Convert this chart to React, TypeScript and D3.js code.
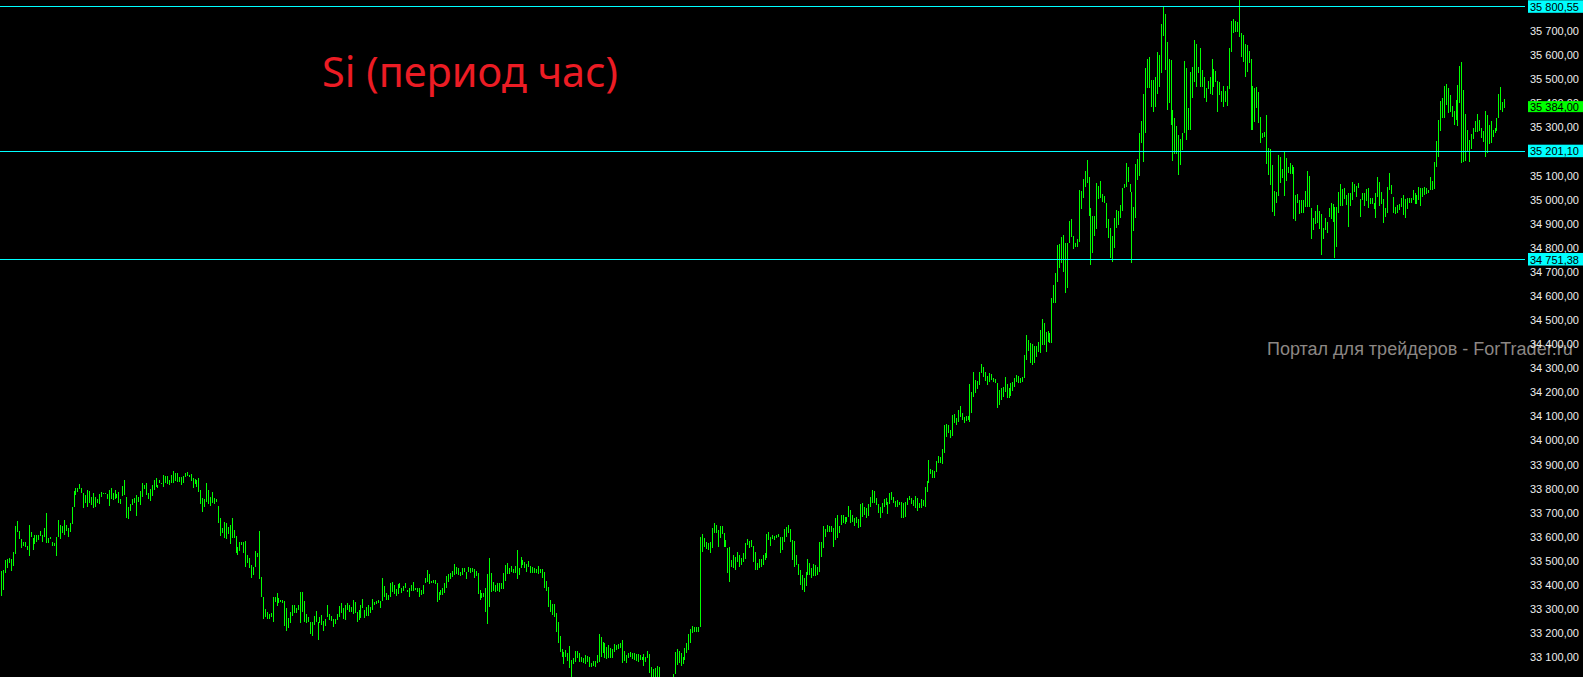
import { useEffect } from 'react';
import * as d3 from 'd3';

// hourly bars, high / low
const highs = [
  33457, 33461, 33503, 33507, 33511, 33507, 33536, 33643, 33664, 33623,
  33589, 33577, 33577, 33560, 33648, 33619, 33594, 33606, 33606, 33606,
  33623, 33606, 33635, 33698, 33594, 33598, 33577, 33573, 33598, 33668,
  33648, 33643, 33668, 33648, 33635, 33656, 33722, 33789, 33801, 33801,
  33817, 33801, 33780, 33772, 33793, 33789, 33764, 33780, 33764, 33755,
  33776, 33784, 33780, 33780, 33776, 33793, 33801, 33780, 33793, 33776,
  33784, 33755, 33809, 33834, 33764, 33722, 33735, 33755, 33759, 33772,
  33764, 33789, 33822, 33813, 33822, 33780, 33797, 33813, 33834, 33842,
  33813, 33834, 33822, 33855, 33851, 33851, 33834, 33855, 33871, 33863,
  33863, 33846, 33846, 33851, 33863, 33867, 33855, 33859, 33842, 33838,
  33834, 33842, 33793, 33759, 33755, 33822, 33793, 33764, 33784, 33759,
  33755, 33726, 33677, 33635, 33660, 33656, 33639, 33648, 33677, 33627,
  33602, 33556, 33577, 33577, 33577, 33581, 33523, 33511, 33482, 33474,
  33540, 33531, 33623, 33432, 33349, 33299, 33287, 33278, 33283, 33349,
  33349, 33366, 33345, 33337, 33337, 33332, 33303, 33262, 33287, 33316,
  33316, 33303, 33316, 33370, 33370, 33332, 33278, 33266, 33245, 33245,
  33270, 33291, 33245, 33266, 33274, 33249, 33258, 33316, 33278, 33270,
  33258, 33258, 33278, 33312, 33324, 33303, 33316, 33324, 33316, 33307,
  33337, 33328, 33287, 33295, 33316, 33341, 33295, 33307, 33316, 33307,
  33341, 33328, 33332, 33337, 33332, 33428,
  33395, 33366, 33357, 33407,
  33411, 33399, 33382, 33403, 33407, 33386, 33395, 33407, 33378, 33386,
  33399, 33411, 33386, 33386, 33386, 33378, 33399, 33428, 33461, 33445,
  33415, 33420, 33420, 33407, 33370, 33378, 33386, 33407, 33436, 33445,
  33449, 33457, 33486, 33474, 33469, 33453, 33469, 33469, 33453, 33474,
  33469, 33469, 33465, 33457, 33449, 33378, 33366, 33366, 33386, 33445,
  33511, 33449, 33411, 33399, 33407, 33407, 33407, 33449, 33482, 33490,
  33469, 33478, 33465, 33478, 33544, 33469, 33515, 33503, 33494, 33486,
  33498, 33478, 33474, 33469, 33465, 33478, 33465, 33465, 33453, 33415,
  33391, 33337, 33320, 33320, 33283, 33245, 33187, 33133, 33121, 33129,
  33117, 33146, 33088, 33096, 33125, 33125, 33117, 33100, 33096, 33108,
  33104, 33100, 33075, 33084, 33084, 33108, 33195, 33183, 33162, 33158,
  33141, 33150, 33137, 33133, 33154, 33150, 33154, 33158, 33171, 33125,
  33108, 33117, 33121, 33117, 33117, 33112, 33112, 33108, 33100, 33112,
  33100, 33125, 33112, 33059, 33050, 33054, 33063, 33059, 33010, 33000,
  33005, 33010, 33000, 33010, 33030, 33121, 33133, 33125, 33117, 33100,
  33137, 33158, 33195, 33216, 33229, 33224, 33224, 33224, 33598, 33610,
  33594, 33577, 33573, 33577, 33635, 33656, 33648, 33627, 33643, 33643,
  33614, 33585, 33552, 33556, 33503, 33523, 33515, 33536, 33523, 33511,
  33531, 33573,
  33589, 33581, 33585, 33560, 33536, 33490, 33507, 33507,
  33523, 33531, 33610, 33619, 33598, 33606, 33602, 33606, 33610, 33598,
  33598, 33631, 33639, 33648, 33631, 33585, 33581, 33523, 33486, 33461,
  33440, 33428, 33453, 33507, 33490, 33469, 33486, 33482, 33474, 33577,
  33577, 33643, 33631, 33648, 33643, 33643, 33635, 33677, 33689, 33643,
  33689, 33689, 33681, 33681, 33726, 33710, 33689, 33677, 33681, 33673,
  33735, 33739, 33722, 33718, 33735, 33764, 33793, 33789, 33759, 33735,
  33722, 33739, 33755, 33759, 33743, 33780, 33784, 33764, 33747, 33751,
  33743, 33743, 33739, 33743, 33759, 33768, 33759, 33751, 33768, 33759,
  33739, 33755, 33751, 33805, 33830, 33917, 33880, 33876, 33871, 33913,
  33934, 33930, 33963, 34062, 34066, 34062, 34042, 34104, 34108, 34091,
  34125, 34141, 34112, 34096, 34100, 34100, 34232, 34199, 34282, 34249,
  34245, 34282, 34316, 34303, 34282, 34266, 34278, 34274, 34257, 34253,
  34237, 34208, 34216, 34220, 34261, 34232, 34216, 34237, 34241, 34257,
  34270, 34266, 34257, 34261, 34353, 34436, 34415, 34403, 34399, 34390,
  34390, 34407, 34457, 34502, 34486, 34448, 34453, 34444, 34590, 34643,
  34693, 34809, 34813, 34842, 34851, 34818, 34818, 34909, 34917, 34847,
  34818, 34834, 35038, 35033, 35083, 35116, 35162, 35092, 34963, 34930,
  34930, 35067, 35054, 35075, 35021, 35013, 34984, 34917, 34880, 34847,
  34921, 34955, 34950, 34975, 35046, 35063, 35150, 35133, 35063, 35029,
  34967, 35146, 35166,
  35274, 35324, 35436, 35544, 35581, 35589, 35494,
  35494, 35506, 35610, 35598, 35726, 35797, 35768, 35652, 35581, 35577,
  35370, 35336, 35303, 35266, 35249, 35274, 35573, 35544, 35378, 35527,
  35548, 35660, 35643, 35548, 35627, 35536, 35506, 35461, 35490, 35506,
  35581, 35540, 35531, 35490, 35486, 35448, 35469, 35448, 35469, 35627,
  35739, 35747, 35739, 35735, 35830, 35689, 35681, 35643, 35639, 35614,
  35581, 35469, 35461, 35465, 35444, 35341, 35274, 35278, 35349, 35212,
  35208, 35141, 35033, 35029, 35183, 35175, 35125, 35195, 35170, 35133,
  35150, 35141, 35133, 35017, 35021, 34996, 34996, 34996, 35033, 35116,
  35096, 34963, 34921, 34950, 34975, 34950, 34938, 34880, 34921, 34905,
  34963, 34984, 34980, 34967, 34967, 35029, 35063, 35042, 35046, 35017,
  35025, 35025, 35071, 35063, 35054, 35067, 35000, 35025, 35025, 35042,
  35046, 35004, 35004, 34984, 35025, 35092, 35071, 35029, 35000, 34963,
  35050, 35108, 35058, 35009, 34967, 34975, 34980, 35004, 35017, 35000,
  35004, 35004, 35004, 35038, 35025, 35017, 35050, 35046, 35046, 35050,
  35046, 35038, 35092, 35075, 35154, 35241, 35328, 35407, 35419, 35469,
  35477, 35461, 35432, 35386, 35365, 35411, 35473, 35552, 35569, 35453,
  35353, 35287, 35245, 35270, 35295, 35324, 35353, 35328, 35295, 35282,
  35365, 35349, 35307, 35324, 35287, 35295, 35336, 35436, 35465, 35403,
  35415,
];

const lows = [
  33353, 33378, 33449, 33469, 33490, 33457, 33478, 33527, 33619, 33589,
  33552, 33560, 33556, 33544, 33519, 33598, 33544, 33569, 33577, 33585,
  33602, 33577, 33598, 33573, 33573, 33589, 33560, 33560, 33519, 33598,
  33589, 33614, 33606, 33623, 33598, 33619, 33652, 33722, 33772, 33784,
  33797, 33780, 33718, 33739, 33722, 33739, 33731, 33718, 33722, 33739,
  33735, 33764, 33776, 33776, 33755, 33726, 33755, 33751, 33755, 33759,
  33739, 33735, 33768, 33772, 33677, 33673, 33706, 33731, 33739, 33685,
  33743, 33731, 33764, 33797, 33772, 33755, 33747, 33768, 33793, 33805,
  33801, 33822, 33817, 33805, 33822, 33817, 33813, 33822, 33822, 33830,
  33826, 33826, 33813, 33822, 33846, 33851, 33846, 33830, 33801, 33817,
  33805, 33784, 33735, 33702, 33722, 33743, 33735, 33726, 33739, 33735,
  33743, 33656, 33602, 33614, 33594, 33589, 33610, 33569, 33594, 33594,
  33531, 33523, 33540, 33565, 33531, 33474, 33490, 33469, 33428, 33440,
  33474, 33515, 33424, 33349, 33258, 33266, 33258, 33258, 33266, 33245,
  33328, 33312, 33324, 33328, 33324, 33229, 33208, 33220, 33241, 33270,
  33283, 33283, 33295, 33241, 33287, 33245, 33241, 33245, 33195, 33187,
  33233, 33245, 33171, 33241, 33233, 33208, 33229, 33266, 33254, 33249,
  33224, 33237, 33254, 33266, 33283, 33258, 33254, 33295, 33287, 33287,
  33278, 33283, 33245, 33254, 33262, 33303, 33262, 33270, 33270, 33283,
  33295, 33316, 33320, 33324, 33303, 33332,
  33349, 33337, 33337, 33349,
  33370, 33361, 33353, 33361, 33386, 33366, 33374, 33386, 33370, 33349,
  33374, 33374, 33378, 33370, 33349, 33357, 33361, 33407, 33411, 33403,
  33407, 33407, 33403, 33328, 33337, 33357, 33357, 33366, 33386, 33411,
  33424, 33432, 33440, 33445, 33440, 33436, 33440, 33453, 33424, 33453,
  33449, 33453, 33428, 33436, 33361, 33337, 33345, 33349, 33287, 33237,
  33307, 33370, 33374, 33370, 33374, 33370, 33382, 33382, 33415, 33445,
  33445, 33453, 33449, 33449, 33424, 33440, 33469, 33482, 33469, 33453,
  33474, 33449, 33449, 33449, 33449, 33445, 33449, 33428, 33386, 33374,
  33307, 33287, 33274, 33266, 33204, 33158, 33121, 33100, 33071, 33100,
  33084, 33054, 33010, 33071, 33079, 33096, 33079, 33079, 33075, 33071,
  33079, 33059, 33059, 33063, 33059, 33075, 33079, 33100, 33117, 33096,
  33092, 33096, 33096, 33096, 33121, 33129, 33133, 33137, 33075, 33084,
  33075, 33096, 33100, 33092, 33088, 33084, 33079, 33088, 33088, 33063,
  33079, 33096, 33034, 33005, 32990, 32990, 33000, 32995, 32960, 32950,
  32955, 32965, 32955, 32970, 32995, 33030, 33067, 33075, 33063, 33071,
  33088, 33117, 33129, 33158, 33200, 33204, 33204, 33204, 33224, 33536,
  33556, 33548, 33544, 33531, 33552, 33614, 33614, 33556, 33594, 33610,
  33556, 33556, 33449, 33411, 33474, 33469, 33461, 33494, 33474, 33482,
  33494, 33507,
  33565, 33552, 33556, 33494, 33461, 33461, 33469, 33474,
  33482, 33503, 33511, 33585, 33560, 33589, 33585, 33594, 33598, 33531,
  33544, 33577, 33598, 33614, 33577, 33503, 33474, 33482, 33440, 33399,
  33378, 33370, 33395, 33440, 33440, 33428, 33436, 33436, 33440, 33453,
  33515, 33552, 33598, 33619, 33619, 33619, 33556, 33585, 33594, 33614,
  33648, 33656, 33652, 33660, 33681, 33656, 33660, 33643, 33656, 33635,
  33639, 33681, 33689, 33677, 33685, 33722, 33739, 33739, 33731, 33698,
  33677, 33698, 33722, 33731, 33693, 33735, 33751, 33739, 33722, 33722,
  33731, 33677, 33677, 33681, 33731, 33751, 33735, 33726, 33718, 33706,
  33718, 33718, 33726, 33722, 33784, 33822, 33859, 33842, 33842, 33867,
  33905, 33905, 33900, 33946, 34012, 34029, 34008, 34017, 34071, 34062,
  34075, 34096, 34083, 34071, 34079, 34083, 34075, 34112, 34179, 34195,
  34212, 34228, 34278, 34261, 34245, 34228, 34241, 34249, 34241, 34237,
  34133, 34145, 34166, 34179, 34199, 34174, 34174, 34183, 34204, 34220,
  34241, 34237, 34237, 34241, 34257, 34332, 34370, 34320, 34312, 34320,
  34345, 34366, 34361, 34394, 34394, 34366, 34407, 34403, 34403, 34569,
  34569, 34656, 34714, 34735, 34697, 34610, 34631, 34818, 34842, 34793,
  34801, 34801, 34822, 34959, 35004, 35050, 35067, 34930, 34726, 34776,
  34847, 34876, 35000, 35004, 34988, 34984, 34880, 34839, 34756, 34739,
  34797, 34880, 34892, 34921, 34950, 35046, 35050, 35071, 35029, 34735,
  34868, 34921, 35079,
  35096, 35233, 35154, 35274, 35461, 35461, 35382,
  35361, 35382, 35436, 35465, 35523, 35677, 35536, 35370, 35399, 35307,
  35158, 35187, 35187, 35100, 35141, 35204, 35274, 35245, 35287, 35287,
  35419, 35486, 35465, 35523, 35465, 35465, 35419, 35403, 35457, 35436,
  35432, 35465, 35486, 35361, 35432, 35403, 35382, 35403, 35386, 35457,
  35610, 35689, 35693, 35693, 35672, 35589, 35569, 35506, 35527, 35565,
  35287, 35287, 35320, 35378, 35316, 35233, 35253, 35258, 35146, 35100,
  35058, 34946, 34930, 34984, 35013, 35067, 35087, 35013, 35075, 35108,
  35104, 35104, 34917, 34909, 34984, 34938, 34942, 34942, 34967, 34967,
  34967, 34834, 34872, 34896, 34901, 34876, 34768, 34834, 34872, 34859,
  34926, 34917, 34905, 34756, 34801, 34942, 34971, 34971, 35000, 34975,
  34884, 34971, 34996, 35029, 35009, 35046, 34926, 34996, 34971, 34992,
  34963, 34980, 34980, 34959, 34921, 35009, 34971, 34980, 34901, 34926,
  34942, 35038, 35021, 34942, 34938, 34942, 34955, 34967, 34934, 34921,
  34959, 34984, 34984, 34996, 34980, 34980, 34996, 34971, 35009, 35017,
  35021, 35025, 35038, 35038, 35042, 35133, 35175, 35282, 35336, 35336,
  35390, 35357, 35361, 35341, 35307, 35328, 35303, 35399, 35150, 35154,
  35158, 35200, 35154, 35208, 35249, 35278, 35278, 35282, 35253, 35237,
  35175, 35191, 35229, 35233, 35258, 35274, 35282, 35336, 35370, 35361,
  35378,
];

const priceTicks = [
  33100, 33200, 33300, 33400, 33500, 33600, 33700, 33800, 33900, 34000,
  34100, 34200, 34300, 34400, 34500, 34600, 34700, 34800, 34900, 35000,
  35100, 35200, 35300, 35400, 35500, 35600, 35700,
];

// horizontal levels drawn on the chart
const levels = [35800.55, 35201.1, 34751.38];
const lastPrice = 35384.0;

const title = 'Si (период час)';
const watermark = 'Портал для трейдеров - ForTrader.ru';

const W = 1583;
const H = 677;

export default function App() {
  useEffect(() => {
    document.body.style.margin = '0';
    document.body.style.background = '#000';
  }, []);

  const n = Math.min(highs.length, lows.length);
  const x = d3.scaleLinear().domain([0, n - 1]).range([1.3, 1504.3]);
  const y = d3.scaleLinear().domain([33016, 35826.7]).range([H, 0]);

  const ru = d3.formatLocale({ decimal: ',', thousands: ' ', grouping: [3], currency: ['', ''] });
  const fmt = ru.format(',.2f');

  // all bars in one path
  let barsPath = '';
  for (let i = 0; i < n; i++) {
    const px = Math.round(x(i)) + 0.5;
    const y1 = Math.round(y(highs[i]));
    let y2 = Math.round(y(lows[i]));
    if (y2 - y1 < 1) y2 = y1 + 1;
    barsPath += `M${px},${y1}V${y2}`;
  }

  const axisX = 1528;
  const labelFont = { fontFamily: '"Liberation Sans", Arial, sans-serif', fontSize: 11 };

  return (
    <svg width={W} height={H} style={{ display: 'block', background: '#000' }}>
      <rect width={W} height={H} fill="#000" />

      <path d={barsPath} stroke="#00ff00" strokeWidth={1} fill="none" shapeRendering="crispEdges" />

      {levels.map((lv) => {
        const yy = Math.round(y(lv)) + 0.5;
        return (
          <line key={lv} x1={0} x2={1525} y1={yy} y2={yy} stroke="#00ffff" strokeWidth={1} shapeRendering="crispEdges" />
        );
      })}

      <text x={1267} y={355} fill="#8c8784" fontFamily='"Liberation Sans", Arial, sans-serif' fontSize={18}>
        {watermark}
      </text>

      {priceTicks.map((t) => (
        <text key={t} x={1530} y={y(t) + 4.5} fill="#eeeeee" {...labelFont}>
          {fmt(t)}
        </text>
      ))}

      {levels.map((lv) => {
        const yy = y(lv);
        return (
          <g key={'b' + lv}>
            <rect x={axisX} y={yy - 6} width={W - axisX} height={12.5} fill="#00ffff" />
            <text x={1530} y={yy + 4.5} fill="#000" {...labelFont}>
              {fmt(lv)}
            </text>
          </g>
        );
      })}

      <rect x={axisX} y={y(lastPrice) - 5.5} width={W - axisX} height={11} fill="#00ff00" />
      <text x={1530} y={y(lastPrice) + 4.5} fill="#000" {...labelFont}>
        {fmt(lastPrice)}
      </text>

      <text
        x={322}
        y={86.5}
        fill="#ec1c24"
        fontFamily='"Noto Sans", "Open Sans", sans-serif'
        fontSize={41}
        textLength={296}
        lengthAdjust="spacingAndGlyphs"
      >
        {title}
      </text>
    </svg>
  );
}
